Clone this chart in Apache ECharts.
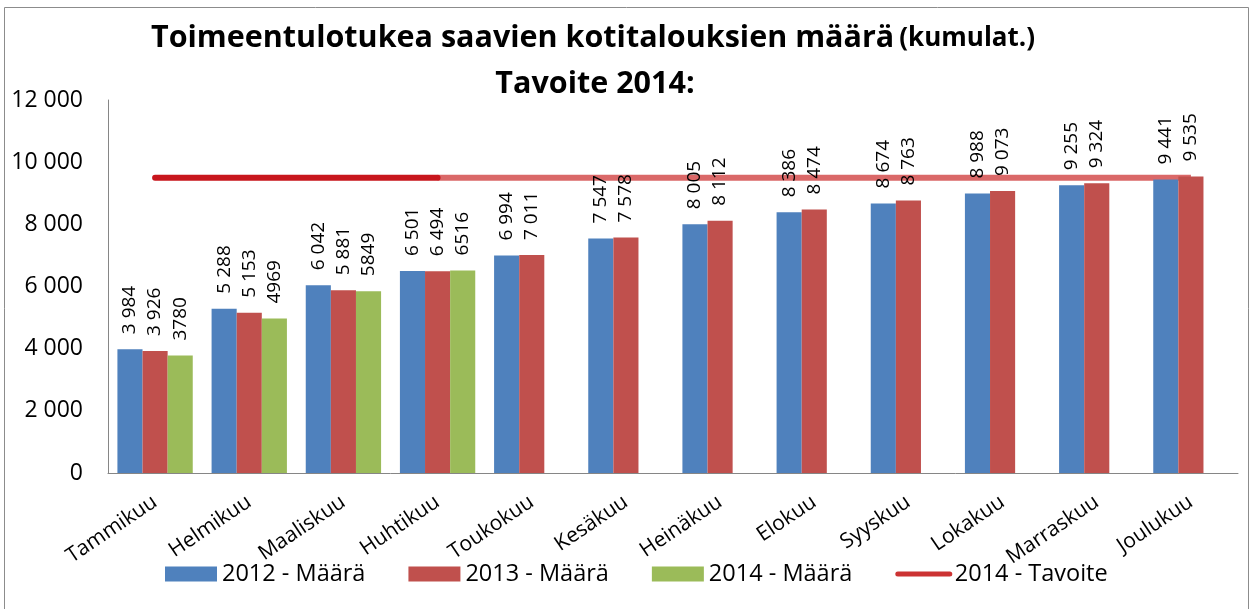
<!DOCTYPE html>
<html>
<head>
<meta charset="utf-8">
<script src="https://cdn.jsdelivr.net/npm/echarts@6/dist/echarts.min.js"></script>
<style>
html,body{margin:0;padding:0;background:#fff;}
#c{width:1254px;height:609px;}
</style>
</head>
<body>
<div id="c"></div>
<script>
const categories = ['Tammikuu','Helmikuu','Maaliskuu','Huhtikuu','Toukokuu','Kesäkuu','Heinäkuu','Elokuu','Syyskuu','Lokakuu','Marraskuu','Joulukuu'];
const v2012 = [3984,5288,6042,6501,6994,7547,8005,8386,8674,8988,9255,9441];
const v2013 = [3926,5153,5881,6494,7011,7578,8112,8474,8763,9073,9324,9535];
const v2014 = [3780,4969,5849,6516,null,null,null,null,null,null,null,null];
const target = [9500,9500,9500,9500,9500,9500,9500,9500,9500,9500,9500,9500];
const yTicks = [0,2000,4000,6000,8000,10000,12000];
const lastActual = 3; // last month with 2014 data

const targetDone = target.map((v,i)=> i<=lastActual ? v : null);
const targetRest = target.map((v,i)=> i>=lastActual ? v : null);

const FONT = '"Open Sans", "Liberation Sans", sans-serif';
const fmtSpace = v => String(v).replace(/\B(?=(\d{3})+(?!\d))/g, ' ');

const chart = echarts.init(document.getElementById('c'), null, {renderer:'canvas'});

const barLabel = (spaced) => ({
  show: true,
  position: 'top',
  rotate: 90,
  align: 'left',
  verticalAlign: 'middle',
  distance: 15,
  fontFamily: FONT,
  fontSize: 19,
  color: '#000',
  formatter: p => p.value == null ? '' : (spaced ? fmtSpace(p.value) : String(p.value))
});

chart.setOption({
  backgroundColor: '#fff',
  animation: false,
  title: [
    {
      text: '{a|Toimeentulotukea saavien kotitalouksien määrä} {b|(kumulat.)}',
      left: 588, top: 18, textAlign: 'center',
      textStyle: {
        rich: {
          a: {fontFamily: FONT, fontWeight: 'bold', fontSize: 30.5, color: '#000'},
          b: {fontFamily: FONT, fontWeight: 'bold', fontSize: 26, color: '#000'}
        }
      }
    },
    {
      text: 'Tavoite 2014:',
      left: 590, top: 64, textAlign: 'center',
      textStyle: {fontFamily: FONT, fontWeight: 'bold', fontSize: 30.5, color: '#000'}
    }
  ],
  graphic: [{
    type: 'rect', shape: {x: 4.5, y: 7.5, width: 1244, height: 620},
    style: {fill: 'none', stroke: '#8c8c8c', lineWidth: 1}, silent: true, z: -1
  }],
  legend: {
    left: 160, top: 557,
    itemWidth: 52, itemHeight: 15, itemGap: 43,
    textStyle: {fontFamily: FONT, fontSize: 23.5, color: '#000'},
    data: [
      {name: '2012 - Määrä', icon: 'rect'},
      {name: '2013 - Määrä', icon: 'rect'},
      {name: '2014 - Määrä', icon: 'rect'},
      {name: '2014 - Tavoite', itemStyle: {opacity: 0}, lineStyle: {color: '#CC3333', width: 5}}
    ]
  },
  grid: {left: 108, right: 16, top: 100, bottom: 136, containLabel: false},
  xAxis: {
    type: 'category',
    data: categories,
    axisLine: {show: true, lineStyle: {color: '#868686', width: 1}},
    axisTick: {show: false},
    axisLabel: {rotate: 34, margin: 27, fontFamily: FONT, fontSize: 21, color: '#000', interval: 0}
  },
  yAxis: {
    type: 'value',
    min: yTicks[0], max: yTicks[yTicks.length-1], interval: yTicks[1]-yTicks[0],
    axisLine: {show: true, lineStyle: {color: '#868686', width: 1}},
    axisTick: {show: false},
    splitLine: {show: false},
    axisLabel: {margin: 25, fontFamily: FONT, fontSize: 23, color: '#000', formatter: v => fmtSpace(v)}
  },
  series: [
    {name: '2012 - Määrä', type: 'bar', data: v2012, barGap: '0%', barCategoryGap: '20%', z: 4,
     itemStyle: {color: '#4F81BD'}, label: barLabel(true)},
    {name: '2013 - Määrä', type: 'bar', data: v2013, barGap: '0%', barCategoryGap: '20%', z: 4,
     itemStyle: {color: '#C0504D'}, label: barLabel(true)},
    {name: '2014 - Määrä', type: 'bar', data: v2014, barGap: '0%', barCategoryGap: '20%', z: 4,
     itemStyle: {color: '#9BBB59'}, label: barLabel(false)},
    {name: 'rest', type: 'line', data: targetRest, symbol: 'none', showSymbol: false, z: 2,
     lineStyle: {color: '#DA6868', width: 6, cap: 'butt'}, itemStyle: {color: '#DA6868'}},
    {name: '2014 - Tavoite', type: 'line', data: targetDone, symbol: 'none', showSymbol: false, z: 3,
     lineStyle: {color: '#C8161D', width: 6, cap: 'round'}, itemStyle: {color: '#C8161D'}}
  ]
});
</script>
</body>
</html>
